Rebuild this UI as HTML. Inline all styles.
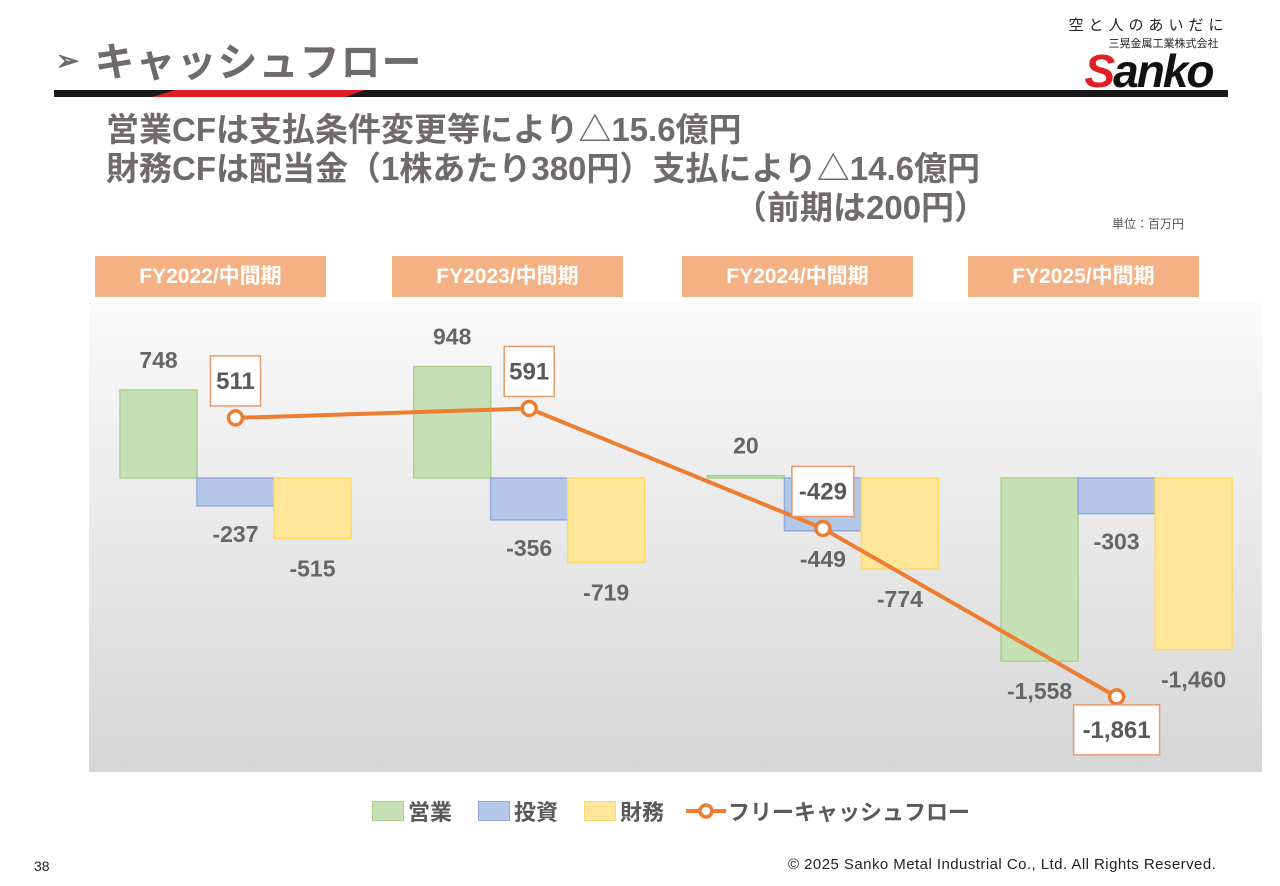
<!DOCTYPE html>
<html><head><meta charset="utf-8">
<style>
body{margin:0;width:1280px;height:886px;background:#fff;font-family:"Liberation Sans","Noto Sans CJK JP",sans-serif;overflow:hidden;position:relative}
.abs{position:absolute}
.hdr{position:absolute;top:256px;height:41px;width:231px;background:#f4b183;color:#fff;font-weight:bold;font-size:21px;line-height:41px;text-align:center}
</style></head><body>
<div class="abs" style="left:56px;top:30px;font-size:40px;font-weight:bold;color:#6f6b6b;letter-spacing:1px"><span style="font-size:28px;vertical-align:6px;margin-right:14px">➢</span>キャッシュフロー</div>
<svg class="abs" style="left:0;top:0" width="1280" height="100"><rect x="54" y="90" width="1174" height="7" fill="#1a1a1a"/><polygon points="175,90 365,90 345,97 152,97" fill="#e01e26"/></svg>
<div class="abs" style="left:1066px;top:14px;width:165px;text-align:center">
<div style="font-size:15px;letter-spacing:5px;color:#222">空と人のあいだに</div>
<div style="font-size:11px;color:#222;margin-left:30px">三晃金属工業株式会社</div>
<div style="font-size:46px;font-weight:900;font-style:italic;line-height:40px;color:#111;letter-spacing:-2px"><span style="color:#e01e26">S</span>anko</div></div>
<div class="abs" style="left:106px;top:110px;font-size:33px;font-weight:bold;color:#6f6b6b;line-height:39px;white-space:nowrap">営業CFは支払条件変更等により△15.6億円<br>財務CFは配当金（1株あたり380円）支払により△14.6億円<br><span style="margin-left:628px">（前期は200円）</span></div>
<div class="abs" style="left:1112px;top:215px;font-size:12px;color:#555">単位：百万円</div>
<div class="hdr" style="left:95px">FY2022/中間期</div>
<div class="hdr" style="left:392px">FY2023/中間期</div>
<div class="hdr" style="left:682px">FY2024/中間期</div>
<div class="hdr" style="left:968px">FY2025/中間期</div>
<svg id="chart" class="abs" style="left:0;top:0" width="1280" height="886">
<defs><linearGradient id="bg" x1="0" y1="0" x2="0" y2="1"><stop offset="0" stop-color="#fafafa"/><stop offset="1" stop-color="#d6d6d6"/></linearGradient></defs>
<rect x="89" y="303" width="1173" height="469" fill="url(#bg)"/>
</svg>
<div class="abs" style="left:372px;top:795px;font-size:22px;font-weight:bold;color:#595959;display:flex;align-items:center">
<span style="display:flex;align-items:center;margin-right:26px"><i style="display:inline-block;width:30px;height:18px;background:#c5e0b4;border:1px solid #a9d18e;margin-right:4px"></i>営業</span>
<span style="display:flex;align-items:center;margin-right:26px"><i style="display:inline-block;width:30px;height:18px;background:#b4c7e7;border:1px solid #8faadc;margin-right:4px"></i>投資</span>
<span style="display:flex;align-items:center;margin-right:22px"><i style="display:inline-block;width:30px;height:18px;background:#ffe699;border:1px solid #ffd966;margin-right:4px"></i>財務</span>
<span style="display:flex;align-items:center"><svg width="40" height="20" style="margin-right:2px"><line x1="0" y1="10" x2="40" y2="10" stroke="#ed7d31" stroke-width="4"/><circle cx="20" cy="10" r="6" fill="#fff" stroke="#ed7d31" stroke-width="3.5"/></svg>フリーキャッシュフロー</span></div>
<div class="abs" style="left:34px;top:858px;font-size:14px;color:#222">38</div>
<div class="abs" style="left:788px;top:856px;font-size:15px;letter-spacing:0.45px;color:#222;white-space:nowrap">© 2025 Sanko Metal Industrial Co., Ltd. All Rights Reserved.</div>
<script>
const categories=["FY2022/中間期","FY2023/中間期","FY2024/中間期","FY2025/中間期"];
const operating=[748,948,20,-1558];
const investing=[-237,-356,-449,-303];
const financing=[-515,-719,-774,-1460];
const fcf=[511,591,-429,-1861];
const svg=document.getElementById('chart');
const NS='http://www.w3.org/2000/svg';
const Y0=478,K=0.1176;
function y(v){return Y0-v*K;}
function gx(i){return 120+i*293.7;}
const BW=77;
function mk(t,a){const e=document.createElementNS(NS,t);for(const k in a)e.setAttribute(k,a[k]);svg.appendChild(e);return e;}
function fmt(v){return (v<0?'-':'')+Math.abs(v).toLocaleString('en-US');}
function txt(x,yy,s){const e=mk('text',{x:x,y:yy,'text-anchor':'middle','font-size':23,'font-weight':'bold',fill:'#666','font-family':'Liberation Sans, sans-serif'});e.textContent=s;return e;}
const series=[[operating,'#c5e0b4','#a9d18e','operating'],[investing,'#b4c7e7','#8faadc','investing'],[financing,'#ffe699','#ffd966','financing']];
categories.forEach((c,i)=>{
 series.forEach((s,j)=>{
  const v=s[0][i],x=gx(i)+j*BW,top=Math.min(y(v),Y0),h=Math.abs(y(v)-Y0);
  const r=mk('rect',{x:x,y:top,width:BW,height:Math.max(h,1),fill:s[1],stroke:s[2],'stroke-width':1.5});
  
  
  let ly;
  if(j==0) ly=v>=0? y(v)-22 : y(v)+38;
  else ly=y(v)+ (j==1?36:38);
  const t=txt(x+BW/2,ly,fmt(v));
  
  
 });
});
let pts=categories.map((c,i)=>[gx(i)+BW*1.5,y(fcf[i])]);
const pl=mk('polyline',{points:pts.map(p=>p.join(',')).join(' '),fill:'none',stroke:'#ed7d31','stroke-width':4});


pts.forEach((p,i)=>{
 const cc=mk('circle',{cx:p[0],cy:p[1],r:7,fill:'#fff',stroke:'#ed7d31','stroke-width':3.5});
 
 
 const s=fmt(fcf[i]);const w=s.length*12+14;
 const by=(i==3)? p[1]+8 : p[1]-62;
 const bx=p[0]-w/2;
 const b=mk('rect',{x:bx,y:by,width:w,height:50,fill:'#fff',stroke:'#e59a6a','stroke-width':1.5});
 
 
 const t=txt(p[0],by+33,s);t.setAttribute('font-size',24);t.setAttribute('fill','#595959');
 
 
});
</script>
</body></html>
